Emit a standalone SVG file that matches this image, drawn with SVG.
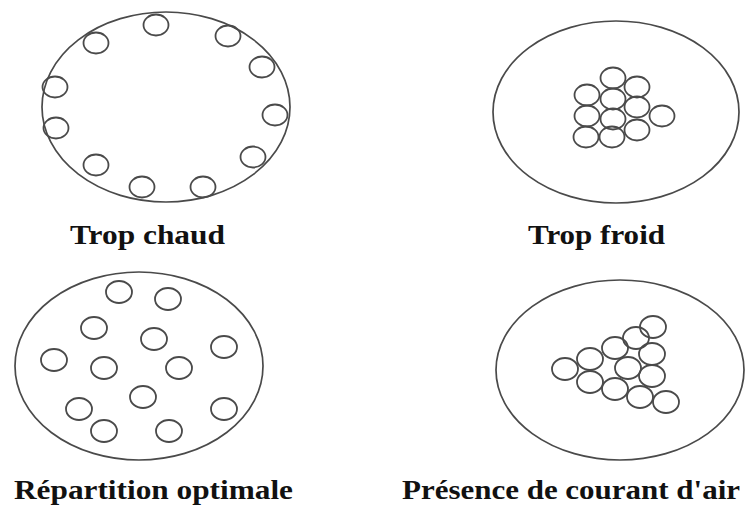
<svg xmlns="http://www.w3.org/2000/svg" width="747" height="509" viewBox="0 0 747 509">
<style>
.big{fill:none;stroke:#4a4a4a;stroke-width:1.7}
.s{fill:none;stroke:#4a4a4a;stroke-width:1.8}
.lbl{font-family:"Liberation Serif","Times New Roman",serif;font-weight:bold;font-size:27px;fill:#111}
</style>
<rect width="747" height="509" fill="#fff"/>
<g id="trop-chaud">
<ellipse class="big" cx="166" cy="107" rx="124" ry="95"/>
<g class="s">
<ellipse cx="156" cy="25" rx="12.5" ry="10.5"/>
<ellipse cx="96" cy="43" rx="12.5" ry="10.5"/>
<ellipse cx="228" cy="36" rx="12.5" ry="10.5"/>
<ellipse cx="262" cy="67" rx="12.5" ry="10.5"/>
<ellipse cx="55" cy="87" rx="12.5" ry="10.5"/>
<ellipse cx="275" cy="115" rx="12.5" ry="10.5"/>
<ellipse cx="56" cy="128" rx="12.5" ry="10.5"/>
<ellipse cx="253" cy="157" rx="12.5" ry="10.5"/>
<ellipse cx="96" cy="165" rx="12.5" ry="10.5"/>
<ellipse cx="142" cy="187" rx="12.5" ry="10.5"/>
<ellipse cx="203" cy="187" rx="12.5" ry="10.5"/>
</g>
<text class="lbl" x="70" y="244" textLength="155" lengthAdjust="spacingAndGlyphs">Trop chaud</text>
</g>
<g id="trop-froid">
<ellipse class="big" cx="616" cy="112" rx="123" ry="91"/>
<g class="s">
<ellipse cx="613" cy="78" rx="12.5" ry="10.5"/>
<ellipse cx="587" cy="95" rx="12.5" ry="10.5"/>
<ellipse cx="637" cy="87" rx="12.5" ry="10.5"/>
<ellipse cx="613" cy="99" rx="12.5" ry="10.5"/>
<ellipse cx="637" cy="107" rx="12.5" ry="10.5"/>
<ellipse cx="587" cy="116" rx="12.5" ry="10.5"/>
<ellipse cx="613" cy="119" rx="12.5" ry="10.5"/>
<ellipse cx="662" cy="116" rx="12.5" ry="10.5"/>
<ellipse cx="637" cy="130" rx="12.5" ry="10.5"/>
<ellipse cx="586" cy="137" rx="12.5" ry="10.5"/>
<ellipse cx="612" cy="137" rx="12.5" ry="10.5"/>
</g>
<text class="lbl" x="528" y="244" textLength="137" lengthAdjust="spacingAndGlyphs">Trop froid</text>
</g>
<g id="repartition-optimale">
<ellipse class="big" cx="139" cy="366" rx="124" ry="94"/>
<g class="s">
<ellipse cx="119" cy="292" rx="13" ry="11"/>
<ellipse cx="168" cy="299" rx="13" ry="11"/>
<ellipse cx="94" cy="328" rx="13" ry="11"/>
<ellipse cx="154" cy="339" rx="13" ry="11"/>
<ellipse cx="224" cy="347" rx="13" ry="11"/>
<ellipse cx="54" cy="360" rx="13" ry="11"/>
<ellipse cx="104" cy="368" rx="13" ry="11"/>
<ellipse cx="179" cy="368" rx="13" ry="11"/>
<ellipse cx="143" cy="397" rx="13" ry="11"/>
<ellipse cx="79" cy="409" rx="13" ry="11"/>
<ellipse cx="224" cy="409" rx="13" ry="11"/>
<ellipse cx="104" cy="431" rx="13" ry="11"/>
<ellipse cx="169" cy="431" rx="13" ry="11"/>
</g>
<text class="lbl" x="14" y="499" textLength="279" lengthAdjust="spacingAndGlyphs">Répartition optimale</text>
</g>
<g id="courant-air">
<ellipse class="big" cx="620" cy="370" rx="124" ry="90"/>
<g class="s">
<ellipse cx="653" cy="327" rx="13" ry="11"/>
<ellipse cx="636" cy="338" rx="13" ry="11"/>
<ellipse cx="615" cy="348" rx="13" ry="11"/>
<ellipse cx="652" cy="354" rx="13" ry="11"/>
<ellipse cx="590" cy="359" rx="13" ry="11"/>
<ellipse cx="628" cy="368" rx="13" ry="11"/>
<ellipse cx="565" cy="369" rx="13" ry="11"/>
<ellipse cx="652" cy="376" rx="13" ry="11"/>
<ellipse cx="590" cy="382" rx="13" ry="11"/>
<ellipse cx="615" cy="389" rx="13" ry="11"/>
<ellipse cx="640" cy="397" rx="13" ry="11"/>
<ellipse cx="666" cy="402" rx="13" ry="11"/>
</g>
<text class="lbl" x="402" y="499" textLength="338" lengthAdjust="spacingAndGlyphs">Présence de courant d'air</text>
</g>
<g id="connectors"/>
</svg>
